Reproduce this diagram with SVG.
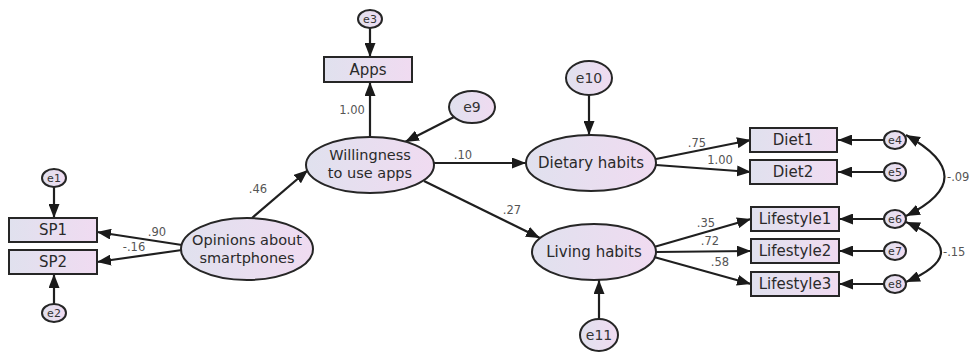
<svg xmlns="http://www.w3.org/2000/svg" width="969" height="353" viewBox="0 0 969 353">
<defs>
<linearGradient id="g" x1="0" y1="0" x2="1" y2="0">
<stop offset="0" stop-color="#e0e1ee"/>
<stop offset="1" stop-color="#f0dbf1"/>
</linearGradient>
<marker id="ah" viewBox="0 0 14 11" refX="14" refY="5.5" markerWidth="14" markerHeight="11" markerUnits="userSpaceOnUse" orient="auto-start-reverse">
<path d="M0,0 L14,5.5 L0,11 Z" fill="#1a1a1a"/>
</marker>
</defs>
<style>
.n{fill:url(#g);stroke:#262626;stroke-width:2}
.t{font-family:"DejaVu Sans",Verdana,sans-serif;font-size:15px;fill:#2a2a2a;text-anchor:middle}
.t2{font-family:"DejaVu Sans",Verdana,sans-serif;font-size:14.5px;fill:#2a2a2a;text-anchor:middle}
.e{font-family:"DejaVu Sans",Verdana,sans-serif;font-size:11px;fill:#333;text-anchor:middle}
.ee{font-family:"DejaVu Sans",Verdana,sans-serif;font-size:14px;fill:#333;text-anchor:middle}
.l{font-family:"DejaVu Sans",Verdana,sans-serif;font-size:11.5px;fill:#555;text-anchor:middle}
.c{fill:none;stroke:#1f1f1f;stroke-width:2.2;marker-end:url(#ah)}
.c2{fill:none;stroke:#1f1f1f;stroke-width:2.2;marker-start:url(#ah);marker-end:url(#ah)}
</style>
<rect width="969" height="353" fill="#ffffff"/>

<g id="connectors">
<line class="c" x1="54" y1="187" x2="54" y2="218"/>
<line class="c" x1="54" y1="304" x2="54" y2="274"/>
<line class="c" x1="182" y1="245" x2="97" y2="232"/>
<line class="c" x1="182" y1="250" x2="97" y2="262"/>
<line class="c" x1="252" y1="218" x2="308" y2="170"/>
<line class="c" x1="370" y1="28" x2="370" y2="57"/>
<line class="c" x1="370" y1="137" x2="370" y2="82"/>
<line class="c" x1="454" y1="117" x2="405" y2="142"/>
<line class="c" x1="434" y1="163" x2="526" y2="163"/>
<line class="c" x1="424" y1="181" x2="540" y2="238"/>
<line class="c" x1="589" y1="95" x2="589" y2="135"/>
<line class="c" x1="656" y1="159" x2="751" y2="140"/>
<line class="c" x1="656" y1="165" x2="751" y2="172"/>
<line class="c" x1="599" y1="319" x2="599" y2="280"/>
<line class="c" x1="654" y1="247" x2="751" y2="219"/>
<line class="c" x1="656" y1="252" x2="751" y2="251"/>
<line class="c" x1="654" y1="257" x2="751" y2="284"/>
<line class="c" x1="884" y1="140" x2="838" y2="140"/>
<line class="c" x1="884" y1="172" x2="838" y2="172"/>
<line class="c" x1="884" y1="219" x2="839" y2="219"/>
<line class="c" x1="884" y1="251" x2="839" y2="251"/>
<line class="c" x1="884" y1="284" x2="839" y2="284"/>
<path class="c2" d="M906,135 Q983,178 906,216"/>
<path class="c2" d="M906,222 Q976,252 906,282"/>
</g>

<g id="labels">
<text class="l" x="157" y="236">.90</text>
<text class="l" x="134" y="251">-.16</text>
<text class="l" x="258" y="193">.46</text>
<text class="l" x="352" y="114">1.00</text>
<text class="l" x="463" y="159">.10</text>
<text class="l" x="512" y="214">.27</text>
<text class="l" x="697" y="147">.75</text>
<text class="l" x="720" y="164">1.00</text>
<text class="l" x="706" y="227">.35</text>
<text class="l" x="710" y="245">.72</text>
<text class="l" x="720" y="266">.58</text>
<text class="l" x="947" y="181" style="text-anchor:start">-.09</text>
<text class="l" x="943" y="256" style="text-anchor:start">-.15</text>
</g>

<g id="SP1"><rect class="n" x="9" y="218" width="88" height="24"/><text class="t" x="53" y="235">SP1</text></g>
<g id="SP2"><rect class="n" x="9" y="250" width="88" height="24"/><text class="t" x="53" y="267">SP2</text></g>
<g id="e1"><ellipse class="n" cx="54" cy="178" rx="12" ry="9"/><text class="e" x="54" y="182">e1</text></g>
<g id="e2"><ellipse class="n" cx="54" cy="313" rx="12" ry="9"/><text class="e" x="54" y="317">e2</text></g>
<g id="opinions"><ellipse class="n" cx="247" cy="249" rx="66" ry="31"/><text class="t2" x="247" y="245">Opinions about</text><text class="t2" x="247" y="263">smartphones</text></g>
<g id="Apps"><rect class="n" x="324" y="57" width="88" height="25"/><text class="t" x="368" y="75">Apps</text></g>
<g id="e3"><ellipse class="n" cx="370" cy="19" rx="12" ry="9"/><text class="e" x="370" y="23">e3</text></g>
<g id="willingness"><ellipse class="n" cx="370" cy="165" rx="64" ry="28"/><text class="t2" x="370" y="160">Willingness</text><text class="t2" x="370" y="178">to use apps</text></g>
<g id="e9"><ellipse class="n" cx="472" cy="107" rx="23" ry="16"/><text class="ee" x="472" y="112">e9</text></g>
<g id="dietary"><ellipse class="n" cx="591" cy="163" rx="65" ry="28"/><text class="t" x="591" y="168">Dietary habits</text></g>
<g id="e10"><ellipse class="n" cx="589" cy="78" rx="23" ry="17"/><text class="ee" x="589" y="83">e10</text></g>
<g id="living"><ellipse class="n" cx="594" cy="252" rx="62" ry="28"/><text class="t" x="594" y="257">Living habits</text></g>
<g id="e11"><ellipse class="n" cx="599" cy="335" rx="19" ry="16"/><text class="ee" x="599" y="340">e11</text></g>
<g id="Diet1"><rect class="n" x="750" y="128" width="87" height="24"/><text class="t" x="793" y="145">Diet1</text></g>
<g id="Diet2"><rect class="n" x="750" y="160" width="87" height="24"/><text class="t" x="793" y="177">Diet2</text></g>
<g id="Lifestyle1"><rect class="n" x="751" y="207" width="88" height="24"/><text class="t" x="795" y="224">Lifestyle1</text></g>
<g id="Lifestyle2"><rect class="n" x="751" y="239" width="88" height="24"/><text class="t" x="795" y="256">Lifestyle2</text></g>
<g id="Lifestyle3"><rect class="n" x="751" y="272" width="88" height="24"/><text class="t" x="795" y="289">Lifestyle3</text></g>
<g id="e4"><ellipse class="n" cx="895" cy="140" rx="11" ry="9"/><text class="e" x="895" y="144">e4</text></g>
<g id="e5"><ellipse class="n" cx="895" cy="172" rx="11" ry="9"/><text class="e" x="895" y="176">e5</text></g>
<g id="e6"><ellipse class="n" cx="895" cy="219" rx="11" ry="9"/><text class="e" x="895" y="223">e6</text></g>
<g id="e7"><ellipse class="n" cx="895" cy="251" rx="11" ry="9"/><text class="e" x="895" y="255">e7</text></g>
<g id="e8"><ellipse class="n" cx="895" cy="284" rx="11" ry="9"/><text class="e" x="895" y="288">e8</text></g>
</svg>
